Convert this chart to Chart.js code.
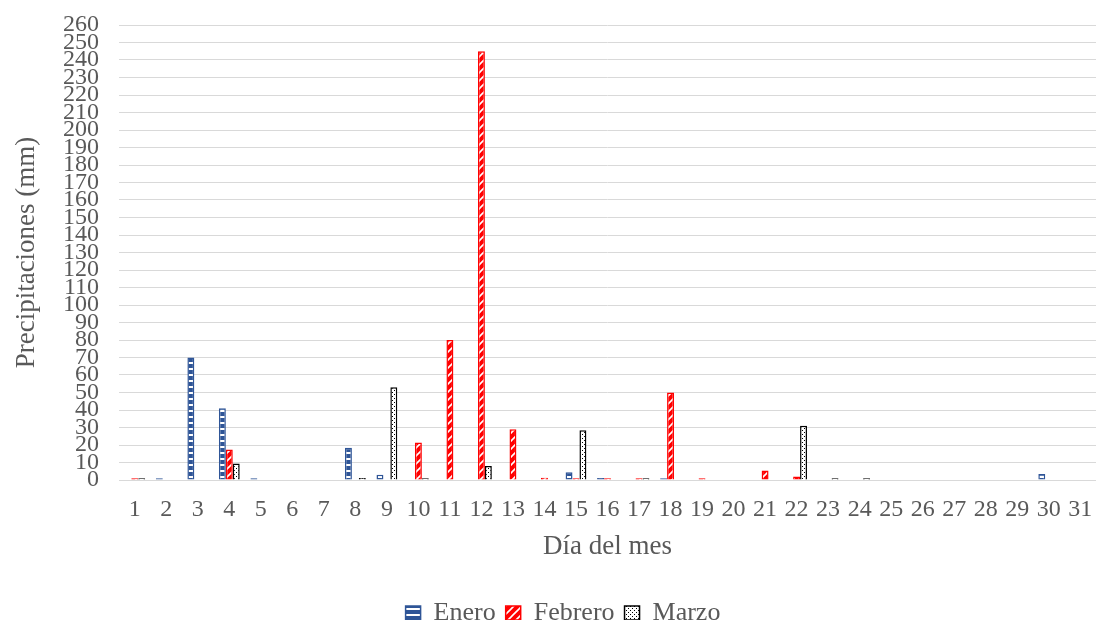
<!DOCTYPE html>
<html lang="es">
<head>
<meta charset="utf-8">
<title>Precipitaciones diarias</title>
<script src="https://cdn.jsdelivr.net/npm/chart.js@4.4.1/dist/chart.umd.min.js"></script>
<style>
  html, body { margin: 0; padding: 0; background: #ffffff; }
  #wrap { width: 1096px; height: 620px; position: relative; }
</style>
</head>
<body>
<div id="wrap"><canvas id="chart" width="1096" height="620"></canvas></div>
<script>
// Días del mes (eje X)
const dias = ['1','2','3','4','5','6','7','8','9','10','11','12','13','14','15','16',
              '17','18','19','20','21','22','23','24','25','26','27','28','29','30','31'];

// Precipitación diaria (mm); null = sin registro
const enero = [null, 1, 70, 41, 1, null, null, 18.5, 3, null, null, null, null, null, 4.5, 1.2,
               null, 1, null, null, null, null, null, null, null, null, null, null, null, 3.5, null];
const febrero = [1, null, null, 17.5, null, null, null, null, null, 21.5, 80, 245, 29, 1.3, 1, 1,
                 1, 50, 1, null, 5.5, 2, null, null, null, null, null, null, null, null, null];
const marzo = [1, null, null, 9.5, null, null, null, 1.2, 53, 1, null, 8, null, null, 28.5, null,
               1, null, null, null, null, 31, 1, 1, null, null, null, null, null, null, null];

const serieNombres = ['Enero', 'Febrero', 'Marzo'];

const FONT = "'Liberation Serif', 'Times New Roman', serif";
const GRIS = '#595959';
const AZUL = '#2F5597';
const ROJO = '#FF0000';
const NEGRO = '#000000';

// Tramas de relleno de las barras
function trama(w, h, dibujar) {
  const c = document.createElement('canvas');
  c.width = w; c.height = h;
  dibujar(c.getContext('2d'), w, h);
  return c.getContext('2d').createPattern(c, 'repeat');
}
const ctx = document.getElementById('chart').getContext('2d');

const tramaEnero = trama(6, 6, (g, w, h) => {
  g.fillStyle = AZUL; g.fillRect(0, 0, w, h);
  g.fillStyle = '#ffffff'; g.fillRect(0, 2, w, 2);
});
const tramaFebrero = trama(8, 8, (g, w, h) => {
  g.fillStyle = ROJO; g.fillRect(0, 0, w, h);
  g.strokeStyle = '#ffffff'; g.lineWidth = 1.6;
  g.beginPath();
  g.moveTo(-1, 9); g.lineTo(9, -1);
  g.moveTo(-1, 1); g.lineTo(1, -1);
  g.moveTo(7, 9); g.lineTo(9, 7);
  g.stroke();
});
const tramaMarzo = trama(4, 4, (g, w, h) => {
  g.fillStyle = '#ffffff'; g.fillRect(0, 0, w, h);
  g.fillStyle = NEGRO; g.fillRect(0, 0, 1, 1); g.fillRect(2, 2, 1, 1);
});

// Desplaza la leyenda para centrarla bajo el área de trazado
const leyendaOffset = {
  id: 'leyendaOffset',
  afterLayout(chart) {
    const lg = chart.legend;
    if (!lg) return;
    lg.left += 15; lg.right += 15;
    lg.top += 16; lg.bottom += 16;
  }
};

new Chart(ctx, {
  type: 'bar',
  data: {
    labels: dias,
    datasets: [
      { label: serieNombres[0], data: enero, backgroundColor: tramaEnero, borderColor: AZUL, borderWidth: 1.5 },
      { label: serieNombres[1], data: febrero, backgroundColor: tramaFebrero, borderColor: ROJO, borderWidth: 1.5 },
      { label: serieNombres[2], data: marzo, backgroundColor: tramaMarzo, borderColor: NEGRO, borderWidth: 1.5 }
    ]
  },
  plugins: [leyendaOffset],
  options: {
    responsive: false,
    animation: false,
    devicePixelRatio: 1,
    layout: { padding: { top: 25, right: 0, left: 0, bottom: 0 } },
    datasets: {
      bar: { categoryPercentage: 0.66, barPercentage: 1.0, borderSkipped: 'start' }
    },
    plugins: {
      legend: {
        position: 'bottom',
        align: 'center',
        labels: {
          font: { family: FONT, size: 26 },
          color: GRIS,
          boxWidth: 15,
          boxHeight: 14,
          padding: 10
        }
      },
      tooltip: { enabled: false }
    },
    scales: {
      x: {
        grid: { display: false, drawTicks: false },
        border: { display: true, color: '#d9d9d9', width: 1 },
        ticks: { font: { family: FONT, size: 24 }, color: GRIS, padding: 15, maxRotation: 0, autoSkip: false },
        title: { display: true, text: 'Día del mes', font: { family: FONT, size: 27 }, color: GRIS, padding: { top: 4, bottom: 11 } },
        afterFit(scale) {
          scale.height = 94;
          scale.paddingLeft = 0;
          scale.paddingRight = 0;
        }
      },
      y: {
        min: 0,
        max: 260,
        grid: { color: '#d9d9d9', lineWidth: 1, drawTicks: false },
        border: { display: false },
        ticks: { stepSize: 10, autoSkip: false, font: { family: FONT, size: 24 }, color: GRIS, padding: 20 },
        title: { display: true, text: 'Precipitaciones (mm)', font: { family: FONT, size: 27 }, color: GRIS, padding: { top: 11, bottom: 4 } },
        afterFit(scale) {
          scale.width = 119;
          scale.paddingTop = 0;
          scale.paddingBottom = 0;
        }
      }
    }
  }
});
</script>
</body>
</html>
